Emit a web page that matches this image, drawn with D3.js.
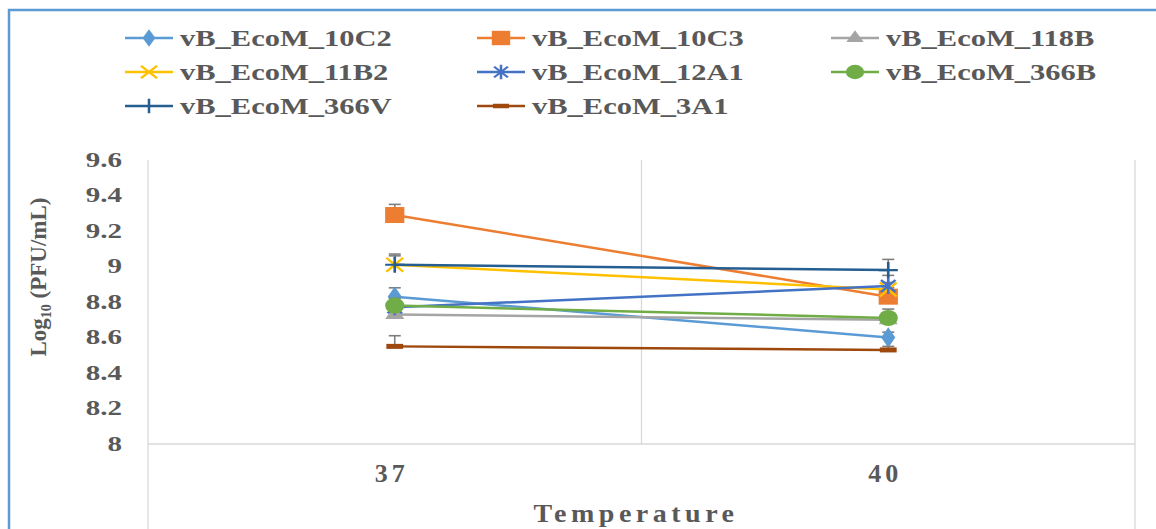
<!DOCTYPE html>
<html lang="en">
<head>
<meta charset="UTF-8">
<title>Log10 PFU vs temperature</title>
<script src="https://cdn.jsdelivr.net/npm/d3@7/dist/d3.min.js"></script>
<style>
  html, body { margin: 0; padding: 0; background: #fff; }
  svg { display: block; }
  text { font-family: "Liberation Serif", "Times New Roman", serif; font-weight: bold; fill: #595959; }
</style>
</head>
<body>
<div id="chart"></div>
<script>
// temperatures on the x axis
const categories = ["37", "40"]
const yTicks = [8, 8.2, 8.4, 8.6, 8.8, 9, 9.2, 9.4, 9.6]

const seriesNames = ["vB_EcoM_10C2", "vB_EcoM_10C3", "vB_EcoM_118B",
                     "vB_EcoM_11B2", "vB_EcoM_12A1", "vB_EcoM_366B",
                     "vB_EcoM_366V", "vB_EcoM_3A1"]

// log10 PFU/mL at 37 and 40
const v10C2 = [8.83, 8.60]
const v10C3 = [9.29, 8.83]
const v118B = [8.73, 8.70]
const v11B2 = [9.01, 8.87]
const v12A1 = [8.77, 8.89]
const v366B = [8.78, 8.71]
const v366V = [9.01, 8.98]
const v3A1  = [8.55, 8.53]

// error (upper) at 37 and 40
const e10C2 = [0.05, 0.03]
const e10C3 = [0.06, 0.05]
const e118B = [0.04, 0.04]
const e11B2 = [0.05, 0.04]
const e12A1 = [0.03, 0.06]
const e366B = [0.04, 0.05]
const e366V = [0.06, 0.06]
const e3A1  = [0.06, 0.02]

const allValues = [v10C2, v10C3, v118B, v11B2, v12A1, v366B, v366V, v3A1]
const allErrors = [e10C2, e10C3, e118B, e11B2, e12A1, e366B, e366V, e3A1]

const colors = ["#5b9bd5", "#ed7d31", "#a5a5a5", "#ffc000", "#4472c4", "#70ad47", "#255e91", "#9e480e"]
const markers = ["diamond", "square", "triangle", "x", "star", "circle", "plus", "dash"]

const series = seriesNames.map((name, i) => ({
    name: name,
    color: colors[i],
    marker: markers[i],
    points: categories.map((c, j) => ({ cat: c, value: allValues[i][j], err: allErrors[i][j] }))
}))

const width = 1156, height = 529
const plot = { left: 148, right: 1135, top: 160, bottom: 444 }

const svg = d3.select("#chart").append("svg")
    .attr("width", width)
    .attr("height", height)

// stretch text horizontally like the source picture
function stretch(sel, k) {
    sel.each(function() {
        const w = this.getComputedTextLength()
        d3.select(this).attr("textLength", w * k).attr("lengthAdjust", "spacingAndGlyphs")
    })
}

// outer frame (left + top only visible)
svg.append("path")
    .attr("d", `M9,${height} L9,10 L${width},10`)
    .attr("fill", "none")
    .attr("stroke", "#5b9bd5")
    .attr("stroke-width", 2.5)

const x = d3.scaleBand().domain(categories).range([plot.left, plot.right])
const y = d3.scaleLinear().domain([8, 9.6]).range([plot.bottom, plot.top])
const cx = c => x(c) + x.bandwidth() / 2

// plot area lines
const grid = svg.append("g").attr("stroke", "#d9d9d9").attr("stroke-width", 1.3)
grid.append("line").attr("x1", plot.left).attr("x2", plot.left).attr("y1", plot.top).attr("y2", height)
grid.append("line").attr("x1", plot.right).attr("x2", plot.right).attr("y1", plot.top).attr("y2", height)
grid.append("line").attr("x1", x(categories[1])).attr("x2", x(categories[1])).attr("y1", plot.top).attr("y2", plot.bottom)
grid.append("line").attr("x1", plot.left).attr("x2", plot.right).attr("y1", y(8)).attr("y2", y(8))

// y axis
const yAxis = svg.append("g")
    .attr("transform", `translate(${plot.left},0)`)
    .call(d3.axisLeft(y).tickValues(yTicks).tickSize(0).tickPadding(26)
        .tickFormat(d => String(+d.toFixed(1))))
yAxis.select(".domain").remove()
yAxis.selectAll("text")
    .attr("font-family", null).attr("font-size", null)
    .style("font-size", "20px")
    .attr("fill", null)
    .call(stretch, 1.45)

// x axis
const xAxis = svg.append("g")
    .attr("transform", `translate(-3,${plot.bottom})`)
    .call(d3.axisBottom(x).tickSize(0).tickPadding(20))
xAxis.select(".domain").remove()
xAxis.selectAll("text")
    .attr("font-family", null).attr("font-size", null)
    .style("font-size", "26px")
    .style("letter-spacing", "4px")
    .attr("fill", null)

// axis titles
svg.append("text")
    .attr("x", 636).attr("y", 522)
    .attr("text-anchor", "middle")
    .style("font-size", "25px")
    .style("letter-spacing", "4px")
    .attr("textLength", 205)
    .attr("lengthAdjust", "spacingAndGlyphs")
    .text("Temperature")

const yTitle = svg.append("text")
    .attr("transform", "translate(46,277) rotate(-90)")
    .attr("text-anchor", "middle")
    .style("font-size", "23px")
yTitle.append("tspan").text("Log")
yTitle.append("tspan").attr("dy", 5).style("font-size", "14px").text("10")
yTitle.append("tspan").attr("dy", -5).text(" (PFU/mL)")

// marker drawing
function drawMarker(g, type, color, s) {
    const k = s || 1
    if (type === "diamond") {
        g.append("path").attr("d", d3.symbol(d3.symbolDiamond, 120 * k)()).attr("fill", color)
    } else if (type === "square") {
        g.append("rect").attr("x", -8).attr("y", -8).attr("width", 16).attr("height", 16).attr("fill", color)
    } else if (type === "triangle") {
        g.append("path").attr("d", d3.symbol(d3.symbolTriangle, 110 * k)()).attr("fill", color)
    } else if (type === "circle") {
        g.append("circle").attr("r", 8).attr("fill", color)
    } else if (type === "x") {
        g.append("path").attr("d", "M-7,-7L7,7M-7,7L7,-7").attr("stroke", color).attr("stroke-width", 2.2)
    } else if (type === "star") {
        g.append("path").attr("d", "M-6,-6L6,6M-6,6L6,-6M0,-8L0,8").attr("stroke", color).attr("stroke-width", 2.2)
    } else if (type === "plus") {
        g.append("path").attr("d", "M-8,0L8,0M0,-8L0,8").attr("stroke", color).attr("stroke-width", 2.2)
    } else if (type === "dash") {
        g.append("rect").attr("x", -7).attr("y", -2.5).attr("width", 14).attr("height", 5).attr("fill", color)
    }
}

const line = d3.line().x(d => cx(d.cat)).y(d => y(d.value))

const sG = svg.selectAll(".series")
    .data(series)
    .join("g")
    .attr("class", "series")

sG.append("path")
    .attr("d", d => line(d.points))
    .attr("fill", "none")
    .attr("stroke", d => d.color)
    .attr("stroke-width", 2.5)

// error bars (plus direction)
sG.each(function(s) {
    const eb = d3.select(this).selectAll(".err")
        .data(s.points)
        .join("g")
        .attr("class", "err")
        .attr("stroke", "#7f7f7f")
        .attr("stroke-width", 1.6)
    eb.append("line")
        .attr("x1", d => cx(d.cat)).attr("x2", d => cx(d.cat))
        .attr("y1", d => y(d.value)).attr("y2", d => y(d.value + d.err))
    eb.append("line")
        .attr("x1", d => cx(d.cat) - 6).attr("x2", d => cx(d.cat) + 6)
        .attr("y1", d => y(d.value + d.err)).attr("y2", d => y(d.value + d.err))
})

sG.each(function(s) {
    d3.select(this).selectAll(".mk")
        .data(s.points)
        .join("g")
        .attr("class", "mk")
        .attr("transform", d => `translate(${cx(d.cat)},${y(d.value)}) scale(1.2,1)`)
        .each(function() { drawMarker(d3.select(this), s.marker, s.color) })
})

// legend: 3 columns x 3 rows
const legX = [125, 477, 831]
const legY = [38, 72, 106]
const leg = svg.selectAll(".leg")
    .data(series)
    .join("g")
    .attr("class", "leg")
    .attr("transform", (d, i) => `translate(${legX[i % 3]},${legY[Math.floor(i / 3)]})`)

leg.append("line")
    .attr("x1", 0).attr("x2", 48)
    .attr("stroke", d => d.color)
    .attr("stroke-width", 2.5)

leg.append("g")
    .attr("transform", "translate(24,0) scale(1.15,0.9)")
    .each(function(d) { drawMarker(d3.select(this), d.marker, d.color, 0.9) })

leg.append("text")
    .attr("x", 55)
    .attr("y", 8)
    .style("font-size", "24px")
    .text(d => d.name)
    .call(stretch, 1.27)
</script>
</body>
</html>
